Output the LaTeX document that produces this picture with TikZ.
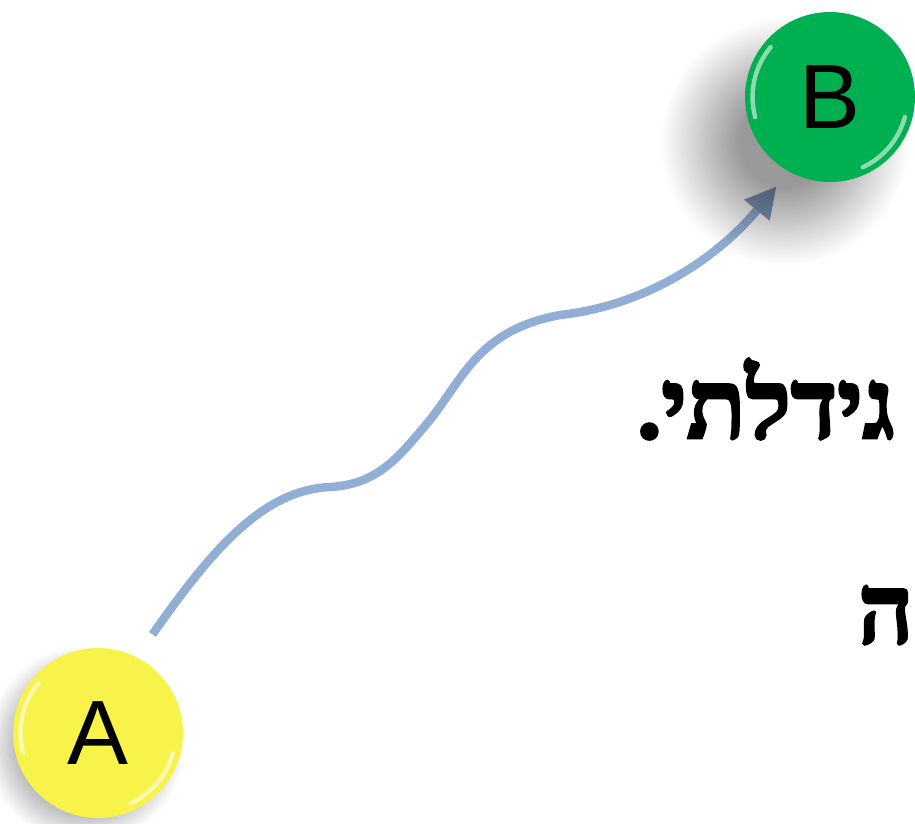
\documentclass[tikz,border=0pt]{standalone}
\usepackage{fontspec}
\usepackage{tikz}
\usetikzlibrary{
	arrows.meta, positioning, calc, backgrounds, shadows.blur
}
\TeXXeTstate=1
\newfontfamily\hebfont[Script=Hebrew, BoldFont={Liberation Serif Bold}, BoldFeatures={FakeBold=3}]{Liberation Serif}
\newfontfamily\ballfont{Liberation Sans}
\definecolor{ballyellow}{RGB}{248,243,75}
\definecolor{ballgreen} {RGB}{0,176,80}
\definecolor{flowblue}  {RGB}{145,174,212}
\definecolor{flowhead}  {RGB}{128,155,190}

\tikzset{
	ball/.style={circle, minimum size=3.4cm, inner sep=0pt, font=\ballfont\fontsize{52}{52}\selectfont},
	flow/.style={line width=0.17cm, flowblue, -{Triangle[length=0.62cm, width=0.62cm, color=flowhead]}},
	hebtext/.style={font=\hebfont\bfseries\fontsize{55}{60}\selectfont, inner sep=0pt},
	gloss/.style={white, opacity=0.55, line width=2.5pt, line cap=round}
}

\begin{document}
\begin{tikzpicture}[x=0.02cm, y=-0.02cm]
	\useasboundingbox (0,0) rectangle (915,823);
	\node[ball, fill=ballyellow, blur shadow={shadow xshift=-0.25cm, shadow yshift=-0.25cm, shadow blur radius=0.3cm, shadow blur steps=20, shadow opacity=25}] (A) at (98,733) {A};
	\node[ball, fill=ballgreen, blur shadow={shadow xshift=-0.9cm, shadow yshift=-0.9cm, shadow blur radius=0.8cm, shadow blur steps=25, shadow opacity=40}] (B) at (830,97) {B};
	\foreach \b in {A,B}{
		\draw[gloss] ([shift={(140:1.55cm)}]\b.center) arc[start angle=140, end angle=195, radius=1.55cm];
		\draw[gloss] ([shift={(295:1.55cm)}]\b.center) arc[start angle=295, end angle=345, radius=1.55cm];
	}
	\node[hebtext, anchor=base east] (line1) at (895,438) {\beginR גידלתי.\endR};
	\node[hebtext, anchor=base east] (line2) at (914,643) {\beginR ה\endR};
	\begin{scope}[on background layer]
		\draw[flow, shorten <=0.55cm, shorten >=0.38cm] (A.63)
			.. controls (215,545) and (265,490) .. (330,487)
			.. controls (380,484) and (400,455) .. (430,420)
			.. controls (465,375) and (480,330) .. (560,315)
			.. controls (650,305) and (720,255) .. (B.241);
	\end{scope}
\end{tikzpicture}
\end{document}
